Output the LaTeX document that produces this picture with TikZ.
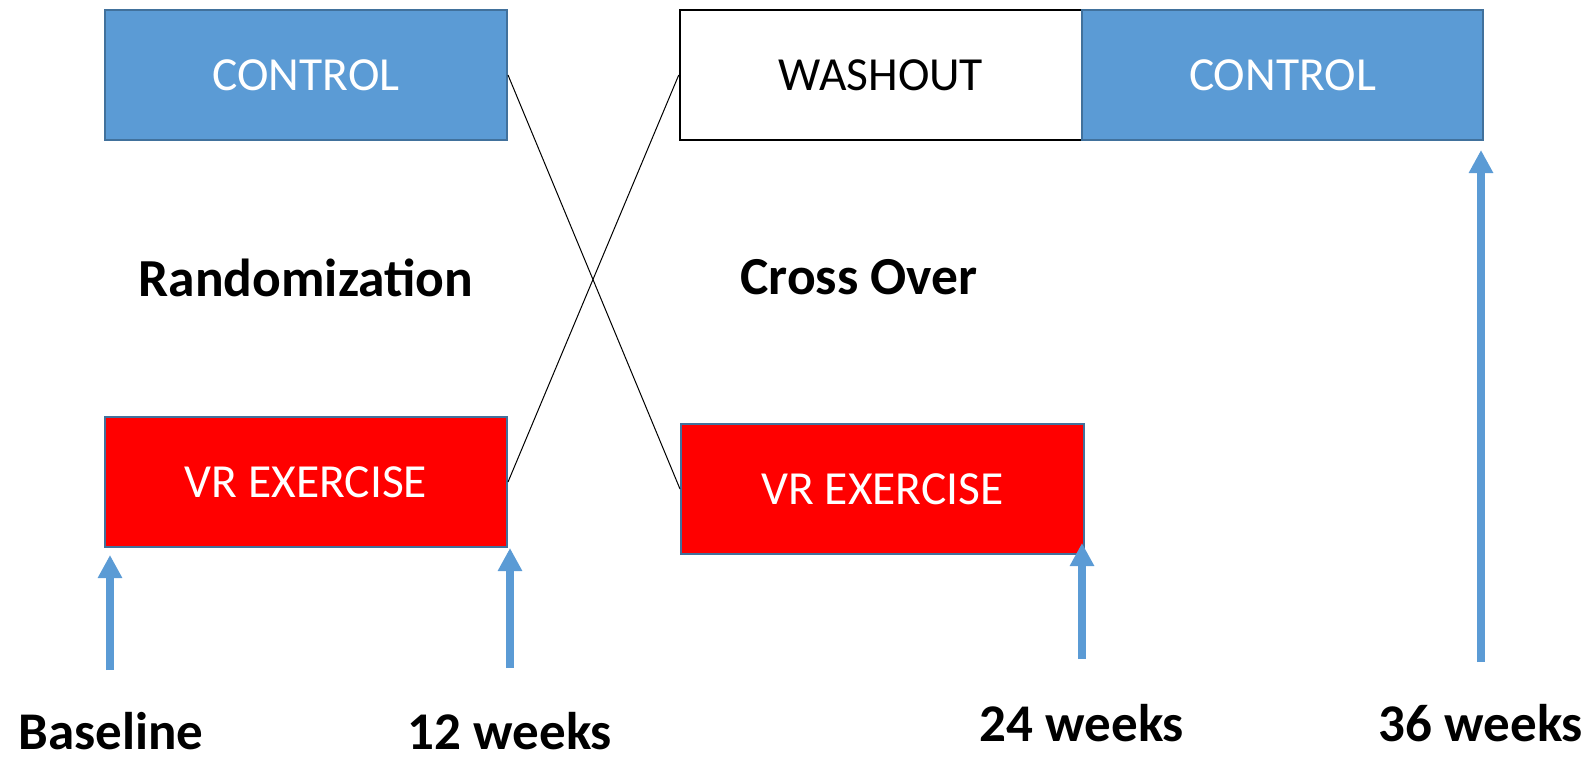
\documentclass[tikz,border=0pt]{standalone}
\usepackage{fontspec}
\setmainfont{Carlito}
\usetikzlibrary{arrows.meta}
\definecolor{officeblue}{HTML}{5B9BD5}
\definecolor{officeedge}{HTML}{41719C}
\tikzset{
  phase/.style={draw=officeedge, line width=2pt, minimum width=402pt, minimum height=130pt,
    inner sep=0pt, font=\fontsize{47.5}{56}\selectfont},
  ctrl/.style={phase, fill=officeblue, text=white},
  vrbox/.style={phase, fill=red, text=white},
  washbox/.style={phase, draw=black, line width=2.5pt, fill=white, text=black},
  heading/.style={anchor=base, font=\fontsize{53.5}{60}\selectfont\bfseries},
  timepoint/.style={anchor=base, font=\fontsize{53}{60}\selectfont\bfseries},
  cross/.style={draw=black, line width=1pt},
  visit/.style={draw=officeblue, line width=7.5pt,
    -{Triangle[width=23pt,length=23pt]}}
}
\begin{document}
\begin{tikzpicture}[x=1pt,y=-1pt]
\useasboundingbox (0,0) rectangle (1591,761);

% first period
\node[ctrl]  (ctl1) at (306,75)  {CONTROL};
\node[vrbox] (vr1)  at (306,482) {VR EXERCISE};

% second period
\node[washbox] (wash) at (881,75) {WASHOUT};
\node[ctrl, minimum width=401pt] (ctl2) at (1282.5,75) {CONTROL};
\node[vrbox, minimum width=403pt] (vr2) at (882.5,489) {VR EXERCISE};

% crossover connectors
\draw[cross] (ctl1.east) -- (vr2.west);
\draw[cross] (vr1.east) -- (wash.west);

% headings
\node[heading] (rand)  at (306,296) {Randomization};
\node[heading] (cover) at (859,294) {Cross Over};

% assessment time points
\node[timepoint] (t0)  at (111,749)  {Baseline};
\node[timepoint] (t12) at (510,749)  {12 weeks};
\node[timepoint] (t24) at (1082,741) {24 weeks};
\node[timepoint] (t36) at (1481,741) {36 weeks};

\coordinate (a0s)  at (110,670);  \coordinate (a0e)  at (110,555);
\coordinate (a12s) at (510,668);  \coordinate (a12e) at (510,548);
\coordinate (a24s) at (1082,659); \coordinate (a24e) at (1082,543);
\coordinate (a36s) at (1481,662); \coordinate (a36e) at (1481,150);

\draw[visit] (a0s) -- (a0e);
\draw[visit] (a12s) -- (a12e);
\draw[visit] (a24s) -- (a24e);
\draw[visit] (a36s) -- (a36e);
\end{tikzpicture}
\end{document}
